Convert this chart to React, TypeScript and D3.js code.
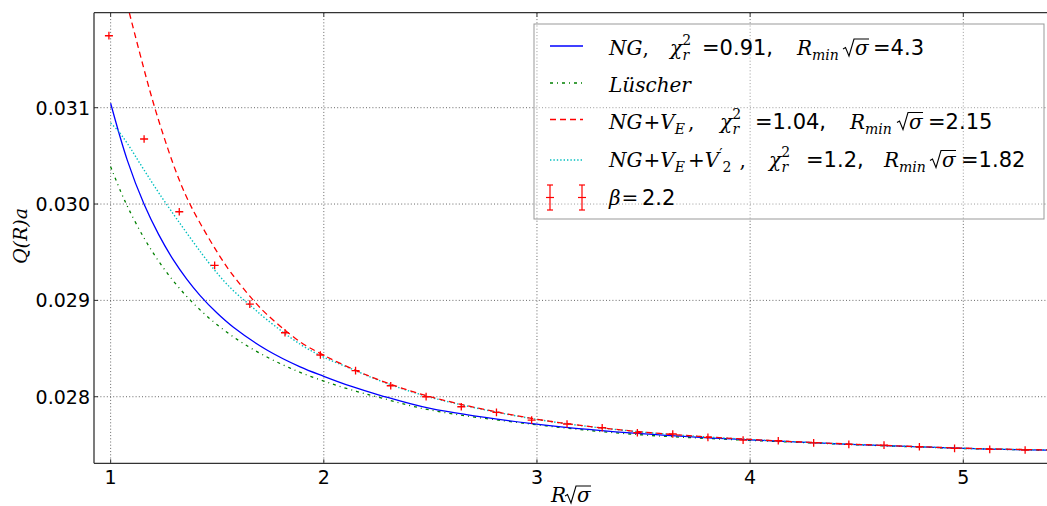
import React from 'react';
import * as d3 from 'd3';

const W = 1047;
const H = 506;

const xTicks = [1, 2, 3, 4, 5];
const yTicks = [0.028, 0.029, 0.030, 0.031];
const yTickLabels = ['0.028', '0.029', '0.030', '0.031'];

// beta = 2.2 lattice data
const dataX = [0.992, 1.157, 1.322, 1.488, 1.653, 1.818, 1.984, 2.149, 2.314, 2.480, 2.645, 2.810, 2.975, 3.141, 3.306, 3.471, 3.637, 3.802, 3.967, 4.132, 4.298, 4.463, 4.628, 4.794, 4.959, 5.124, 5.290];
const dataY = [0.031747, 0.030675, 0.029920, 0.029364, 0.028962, 0.028664, 0.028433, 0.028270, 0.028114, 0.028000, 0.027896, 0.027838, 0.027758, 0.027717, 0.027678, 0.027626, 0.027613, 0.027578, 0.027550, 0.027543, 0.027522, 0.027506, 0.027498, 0.027481, 0.027464, 0.027454, 0.027447];
const dataErr = [0.00004, 0.00004, 0.00004, 0.00004, 0.00004, 0.00004, 0.00004, 0.00004, 0.00004, 0.00004, 0.00004, 0.00004, 0.00004, 0.00004, 0.00004, 0.00004, 0.00004, 0.00004, 0.00004, 0.00004, 0.00004, 0.00004, 0.00004, 0.00004, 0.00004, 0.00004, 0.00004];

// NG fit (blue solid)
const ngX = [1.0, 1.078, 1.157, 1.225, 1.295, 1.357, 1.42, 1.498, 1.576, 1.733, 1.889, 2.0, 2.123, 2.264, 2.499, 2.968, 3.437, 4.0, 5.0, 5.4];
const ngY = [0.031046, 0.030456, 0.029997, 0.029685, 0.029417, 0.029221, 0.029050, 0.028871, 0.028721, 0.028485, 0.028310, 0.028212, 0.028112, 0.028015, 0.027878, 0.027724, 0.027625, 0.027552, 0.027464, 0.027446];

// Lüscher (green dash-dot)
const luX = [1.0, 1.048, 1.086, 1.157, 1.224, 1.290, 1.357, 1.428, 1.498, 1.576, 1.654, 1.733, 1.811, 1.889, 2.0, 2.123, 2.264, 2.499, 2.968, 3.437, 4.0, 5.0, 5.4];
const luY = [0.030388, 0.030126, 0.029943, 0.029646, 0.029411, 0.029213, 0.029041, 0.028884, 0.028750, 0.028621, 0.028510, 0.028412, 0.028328, 0.028253, 0.028162, 0.028075, 0.027990, 0.027862, 0.027717, 0.027613, 0.027547, 0.027463, 0.027445];

// NG + V_E (red dashed)
const veX = [1.088, 1.181, 1.235, 1.313, 1.381, 1.532, 1.599, 1.670, 1.733, 1.889, 2.0, 2.123, 2.264, 2.499, 2.968, 3.437, 4.0, 5.0, 5.4];
const veY = [0.031983, 0.031200, 0.030800, 0.030300, 0.029960, 0.029390, 0.029190, 0.029000, 0.028855, 0.028570, 0.028430, 0.028300, 0.028170, 0.028000, 0.027778, 0.027646, 0.027557, 0.027466, 0.027448];

// NG + V_E + V2' (cyan dotted)
const v2X = [1.0, 1.032, 1.078, 1.157, 1.259, 1.482, 1.576, 1.654, 1.733, 1.889, 2.0, 2.123, 2.264, 2.499, 2.968, 3.437, 4.0, 5.0, 5.4];
const v2Y = [0.030840, 0.030769, 0.030630, 0.030353, 0.030008, 0.029330, 0.029100, 0.028950, 0.028800, 0.028545, 0.028410, 0.028295, 0.028165, 0.027995, 0.027776, 0.027645, 0.027556, 0.027465, 0.027447];

const L = 94, R = 1049, T = 12.7, B = 463.3;

const MATH = "'DejaVu Serif', serif";
const SANS = "'DejaVu Sans', sans-serif";

export default function App() {
  const x = d3.scaleLinear().domain([0.922, 5.402]).range([L, R]);
  const y = d3.scaleLinear().domain([0.027309, 0.031986]).range([B, T]);

  const line = d3
    .line<[number, number]>()
    .x((d) => x(d[0]))
    .y((d) => y(d[1]))
    .curve(d3.curveCatmullRom.alpha(0.5));

  const zip = (a: number[], b: number[]) => a.map((v, i) => [v, b[i]] as [number, number]);

  const mfs = 20;
  const sub = 14;

  const It = ({ x0, yb, t, size = mfs }: { x0: number; yb: number; t: string; size?: number }) => (
    <text x={x0} y={yb} fontFamily={MATH} fontStyle="italic" fontSize={size}>{t}</text>
  );
  const Sn = ({ x0, yb, t }: { x0: number; yb: number; t: string }) => (
    <text x={x0} y={yb} fontFamily={SANS} fontSize={21}>{t}</text>
  );

  const Sqrt = ({ x0, yb }: { x0: number; yb: number }) => (
    <g>
      <path
        d={`M${x0},${yb - 6} L${x0 + 2.5},${yb - 7.5} L${x0 + 6},${yb + 1} L${x0 + 11},${yb - 16} L${x0 + 26},${yb - 16}`}
        fill="none"
        stroke="#000"
        strokeWidth={1.1}
      />
      <It x0={x0 + 12} yb={yb} t="σ" />
    </g>
  );

  const Chi = ({ x0, yb }: { x0: number; yb: number }) => (
    <text x={x0} y={yb} fontFamily={MATH} fontSize={mfs}>
      <tspan fontStyle="italic">χ</tspan>
      <tspan dx={0} dy={-10} fontSize={sub}>2</tspan>
      <tspan dx={-8.5} dy={15} fontSize={sub} fontStyle="italic">r</tspan>
    </text>
  );

  const Rmin = ({ x0, yb }: { x0: number; yb: number }) => (
    <text x={x0} y={yb} fontFamily={MATH} fontStyle="italic" fontSize={mfs}>
      R<tspan dy={5} fontSize={sub}>min</tspan>
    </text>
  );

  const r1 = 55, r2 = 92, r3 = 128.5, r4 = 166.5, r5 = 205;

  return (
    <svg width={W} height={H} style={{ position: 'absolute', left: 0, top: 0, background: '#fff' }}>
      <defs>
        <clipPath id="plotclip">
          <rect x={L} y={T} width={R - L} height={B - T} />
        </clipPath>
      </defs>
      <rect x={0} y={0} width={W} height={H} fill="#fff" />

      {/* grid */}
      <g stroke="#000" strokeWidth={0.8} strokeDasharray="1,2.2" opacity={0.75}>
        {xTicks.map((t) => (
          <line key={'gx' + t} x1={x(t)} x2={x(t)} y1={T} y2={B} />
        ))}
        {yTicks.map((t) => (
          <line key={'gy' + t} x1={L} x2={R} y1={y(t)} y2={y(t)} />
        ))}
      </g>

      {/* curves */}
      <g clipPath="url(#plotclip)" fill="none">
        <path d={line(zip(luX, luY)) || ''} stroke="#008000" strokeWidth={1.3} strokeDasharray="3,4,1,4" />
        <path d={line(zip(ngX, ngY)) || ''} stroke="#0000ff" strokeWidth={1.3} />
        <path d={line(zip(v2X, v2Y)) || ''} stroke="#00bfbf" strokeWidth={1.4} strokeDasharray="1.4,2" />
        <path d={line(zip(veX, veY)) || ''} stroke="#ff0000" strokeWidth={1.3} strokeDasharray="6,4" />
        {/* data points */}
        <g stroke="#ff0000" strokeWidth={1.3}>
          {dataX.map((dx, i) => {
            const px = x(dx);
            const py = y(dataY[i]);
            const e1 = y(dataY[i] + dataErr[i]);
            const e2 = y(dataY[i] - dataErr[i]);
            return (
              <g key={'p' + i}>
                <line x1={px - 4} x2={px + 4} y1={py} y2={py} />
                <line x1={px} x2={px} y1={e1} y2={e2} />
              </g>
            );
          })}
        </g>
      </g>

      {/* axes spines */}
      <g stroke="#333" strokeWidth={1.3} fill="none">
        <line x1={L} x2={R} y1={T} y2={T} />
        <line x1={L} x2={R} y1={B} y2={B} />
        <line x1={L} x2={L} y1={T} y2={B} />
      </g>
      {/* ticks inside */}
      <g stroke="#333" strokeWidth={1}>
        {xTicks.map((t) => (
          <g key={'tx' + t}>
            <line x1={x(t)} x2={x(t)} y1={B} y2={B - 4} />
            <line x1={x(t)} x2={x(t)} y1={T} y2={T + 4} />
          </g>
        ))}
        {yTicks.map((t) => (
          <line key={'ty' + t} x1={L} x2={L + 4} y1={y(t)} y2={y(t)} />
        ))}
      </g>

      {/* tick labels */}
      <g fontFamily={SANS} fontSize={19} fill="#000">
        {xTicks.map((t) => (
          <text key={'lx' + t} x={x(t)} y={484} textAnchor="middle">{t}</text>
        ))}
        {yTicks.map((t, i) => (
          <text key={'ly' + t} x={90} y={y(t)} dy="0.36em" textAnchor="end">{yTickLabels[i]}</text>
        ))}
      </g>

      {/* axis labels */}
      <g transform="translate(27,236) rotate(-90)">
        <text x={0} y={0} textAnchor="middle" fontFamily={MATH} fontStyle="italic" fontSize={19}>Q(R)a</text>
      </g>
      <g>
        <It x0={551} yb={502} t="R" />
        <Sqrt x0={565} yb={502} />
      </g>

      {/* legend */}
      <g>
        <rect x={534} y={24} width={510} height={195} fill="#fff" fillOpacity={0.35} stroke="#999" strokeWidth={1} />
        <line x1={550} x2={583} y1={46} y2={46} stroke="#0000ff" strokeWidth={1.3} />
        <line x1={550} x2={583} y1={83} y2={83} stroke="#008000" strokeWidth={1.3} strokeDasharray="3,4,1,4" />
        <line x1={550} x2={583} y1={119.5} y2={119.5} stroke="#ff0000" strokeWidth={1.3} strokeDasharray="6,4" />
        <line x1={550} x2={583} y1={160} y2={160} stroke="#00bfbf" strokeWidth={1.4} strokeDasharray="1.4,2" />
        <g stroke="#ff0000" strokeWidth={1.2}>
          {[550, 582].map((mx) => (
            <g key={'lm' + mx}>
              <line x1={mx} x2={mx} y1={185} y2={210} />
              <line x1={mx - 3} x2={mx + 3} y1={185} y2={185} />
              <line x1={mx - 3} x2={mx + 3} y1={210} y2={210} />
              <line x1={mx - 4} x2={mx + 4} y1={197.5} y2={197.5} />
            </g>
          ))}
        </g>

        {/* row 1 */}
        <text x={609} y={r1} fontFamily={MATH} fontSize={mfs}>
          <tspan fontStyle="italic">NG</tspan>
          <tspan>,</tspan>
        </text>
        <Chi x0={670} yb={r1} />
        <Sn x0={702} yb={r1} t="=0.91," />
        <Rmin x0={797} yb={r1} />
        <Sqrt x0={843} yb={r1} />
        <Sn x0={873} yb={r1} t="=4.3" />

        {/* row 2 */}
        <It x0={609} yb={r2} t="Lüscher" />

        {/* row 3 */}
        <text x={609} y={r3} fontFamily={MATH} fontSize={mfs}>
          <tspan fontStyle="italic">NG</tspan>
          <tspan dx={1}>+</tspan>
          <tspan fontStyle="italic">V</tspan>
          <tspan dy={5} fontSize={sub} fontStyle="italic">E</tspan>
          <tspan dx={3} dy={-5}>,</tspan>
        </text>
        <Chi x0={720} yb={r3} />
        <Sn x0={755} yb={r3} t="=1.04," />
        <Rmin x0={850} yb={r3} />
        <Sqrt x0={897} yb={r3} />
        <Sn x0={928} yb={r3} t="=2.15" />

        {/* row 4 */}
        <text x={609} y={r4} fontFamily={MATH} fontSize={mfs}>
          <tspan fontStyle="italic">NG</tspan>
          <tspan dx={1}>+</tspan>
          <tspan fontStyle="italic">V</tspan>
          <tspan dy={5} fontSize={sub} fontStyle="italic">E</tspan>
          <tspan dx={3} dy={-5}>+</tspan>
          <tspan fontStyle="italic">V</tspan>
          <tspan dy={-8} fontSize={15}>′</tspan>
          <tspan dx={0} dy={13} fontSize={sub}>2</tspan>
          <tspan dx={8} dy={-5}>,</tspan>
        </text>
        <Chi x0={769} yb={r4} />
        <Sn x0={806} yb={r4} t="=1.2," />
        <Rmin x0={884} yb={r4} />
        <Sqrt x0={930} yb={r4} />
        <Sn x0={961} yb={r4} t="=1.82" />

        {/* row 5 */}
        <text x={609} y={r5} fontFamily={MATH} fontSize={mfs}>
          <tspan fontStyle="italic">β</tspan>
          <tspan dx={1}>=</tspan>
        </text>
        <Sn x0={642} yb={r5} t="2.2" />
      </g>
    </svg>
  );
}
